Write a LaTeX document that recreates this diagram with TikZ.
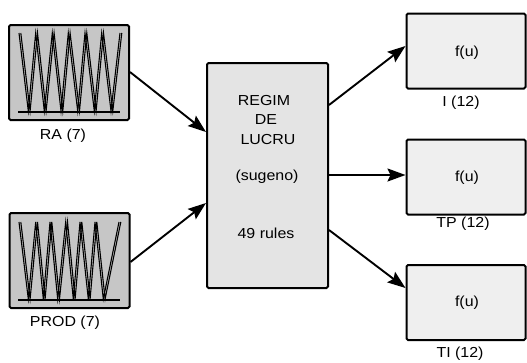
\documentclass[tikz,border=0pt]{standalone}
\usepackage{fontspec}
\setmainfont{Liberation Sans}[FakeStretch=1.1]
\usetikzlibrary{arrows.meta}
\definecolor{mfgray}{HTML}{C6C6C6}
\definecolor{fisgray}{HTML}{E4E4E4}
\definecolor{outgray}{HTML}{EFEFEF}
\begin{document}
\begin{tikzpicture}[x=1pt,y=-1pt,
  blk/.style={draw=black,line width=2pt,rounded corners=1.5pt,inner sep=0pt},
  mfbox/.style={blk,fill=mfgray,minimum width=120pt,minimum height=95pt},
  fisbox/.style={blk,fill=fisgray,minimum width=121pt,minimum height=225pt},
  outbox/.style={blk,fill=outgray,minimum width=119pt,minimum height=75pt},
  txt/.style={inner sep=0pt,font=\fontsize{14.5}{18}\selectfont},
  mfline/.style={line width=1.1pt,line join=miter},
  conn/.style={line width=1.9pt,-{Stealth[length=18pt,width=13pt,inset=3pt]}}
]
\useasboundingbox (0,0) rectangle (527,362);
% input MF blocks
\node[mfbox] (ra) at (69,72.5) {};
\node[mfbox] (prod) at (69.5,260.5) {};
\foreach \d in {0,1.8}{
\draw[mfline,xshift=\d pt] (19,33)--(28.3,111)--(35.7,33)--(44.3,111)--(52.3,33)--(61,111)--(68.3,33)--(77.7,111)--(85,33)--(94.3,111)--(101.7,33)--(111,111)--(120,33);
\draw[mfline,xshift=\d pt] (19,222)--(28.3,299)--(35.7,222)--(43.3,299)--(50,222)--(57.7,299)--(65.7,222)--(73.3,299)--(80,222)--(88.3,299)--(95,222)--(103.3,299)--(119,222);
}
\draw[line width=1.3pt] (18,112)--(120,112);
\draw[line width=1.3pt] (18,300)--(120,300);
\node[txt] (ralab) at (63,135.5) {RA (7)};
\node[txt] (prodlab) at (65,322.5) {PROD (7)};
% FIS block
\node[fisbox] (fis) at (267.5,175.5) {};
\node[txt] (f1) at (264,101) {REGIM};
\node[txt] (f2) at (266,120) {DE};
\node[txt] (f3) at (268,140) {LUCRU};
\node[txt] (f4) at (267,177) {(sugeno)};
\node[txt] (f5) at (266,233) {49 rules};
% output blocks
\node[outbox] (o1) at (466,51) {};
\node[outbox] (o2) at (466,177) {};
\node[outbox] (o3) at (466,302.5) {};
\node[txt] (u1) at (467,53) {f(u)};
\node[txt] (u2) at (467,178) {f(u)};
\node[txt] (u3) at (467,303) {f(u)};
\node[txt] (l1) at (461,103) {I (12)};
\node[txt] (l2) at (463,223.5) {TP (12)};
\node[txt] (l3) at (460,353.5) {TI (12)};
% connectors
\draw[conn] ([yshift=0.5pt]ra.east) -- ([yshift=43.5pt]fis.west);
\draw[conn] ([yshift=-1.5pt]prod.east) -- ([yshift=-27.5pt]fis.west);
\draw[conn] ([yshift=70.5pt]fis.east) -- ([yshift=5pt]o1.west);
\draw[conn] ([yshift=0.5pt]fis.east) -- ([yshift=2pt]o2.west);
\draw[conn] ([yshift=-54.5pt]fis.east) -- ([yshift=14.5pt]o3.west);
\end{tikzpicture}
\end{document}
